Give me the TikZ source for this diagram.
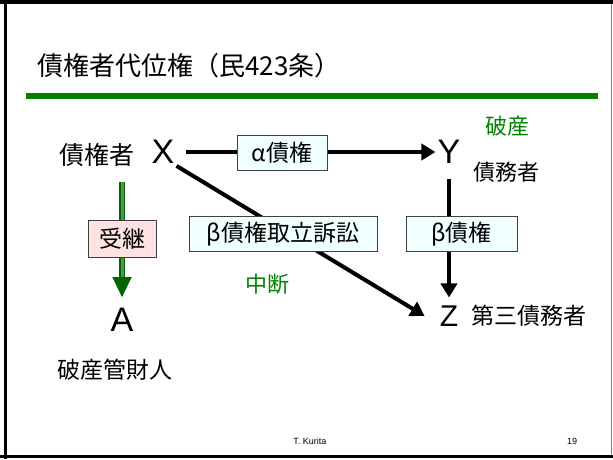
\documentclass[tikz,border=0pt]{standalone}
\usepackage{fontspec}
\setmainfont{Liberation Sans}
\newfontfamily\jp{Noto Sans CJK JP}
\usetikzlibrary{arrows.meta, positioning}

\definecolor{slidegreen}{RGB}{0,128,0}
\definecolor{darkgreen}{RGB}{0,100,0}
\definecolor{midgreen}{RGB}{80,150,80}
\definecolor{boxcyan}{RGB}{240,255,255}
\definecolor{boxpink}{RGB}{255,226,226}

\tikzset{
  party/.style={font=\fontsize{34}{34}\selectfont, inner sep=2pt},
  jlabel/.style={font=\jp\fontsize{23}{23}\selectfont, inner sep=0pt},
  claimbox/.style={draw=black!75, fill=boxcyan, line width=0.8pt, font=\jp\fontsize{23}{23}\selectfont, minimum height=35pt, inner sep=0pt},
  arr/.style={line width=4pt, -{Triangle[length=14pt,width=16pt]}},
  inheritarr/.style={darkgreen, line width=1.5pt, double=midgreen, double distance=3pt, -{Triangle[length=20pt,width=19pt]}},
}

\begin{document}
\begin{tikzpicture}[x=1pt, y=-1pt]
    \useasboundingbox (0,0) rectangle (613,459);

    % slide frame
    \draw[gray, line width=1.2pt] (611.5,0) -- (611.5,456);
    \draw[line width=4pt] (0,2) -- (613,2);
    \draw[line width=3pt] (5.5,0) -- (5.5,459);
    \draw[line width=3pt] (0,456) -- (613,456);

    % title
    \node[anchor=west, font=\jp\fontsize{26}{26}\selectfont, inner sep=0pt] (title) at (37,66) {債権者代位権（民423条）};
    \fill[slidegreen] (26,93) rectangle (598,99);

    % parties
    \node[party] (X) at (163,152) {X};
    \node[party] (Y) at (449,152) {Y};
    \node[party, font=\fontsize{30}{30}\selectfont] (Z) at (449,316) {Z};
    \node[party] (A) at (122,320) {A};

    \node[jlabel, font=\jp\fontsize{25}{25}\selectfont] (creditor) at (96.5,155) {債権者};
    \node[jlabel, font=\jp\fontsize{22}{22}\selectfont] (debtor) at (506,172) {債務者};
    \node[jlabel, right=11pt of Z] (thirddebtor) {第三債務者};
    \node[jlabel] (trustee) at (115,370) {破産管財人};
    \node[jlabel, text=slidegreen, font=\jp\fontsize{22}{22}\selectfont] (bankrupt) at (507,126) {破産};
    \node[jlabel, text=slidegreen, font=\jp\fontsize{22}{22}\selectfont] (suspend) at (267,284) {中断};

    % claims
    \coordinate (inheritTop) at (122,182);
    \draw[arr, shorten <=9pt] (X.east) -- (Y.west);
    \draw[arr, shorten <=13pt, shorten >=6pt] (Y.south) -- (Z.north);
    \draw[arr] (X.south east) -- ([xshift=-13pt]Z.west);
    \draw[inheritarr, shorten >=9pt] (inheritTop) -- (A.north);

    \node[claimbox, minimum width=90pt] (alpha) at (282,153) {α債権};
    \node[claimbox, minimum width=188pt] (suit) at (283,234) {β債権取立訴訟};
    \node[claimbox, minimum width=111pt] (beta) at (461.5,234) {β債権};
    \node[claimbox, fill=boxpink, minimum width=68pt, minimum height=37pt] (inherit) at (122,238.5) {受継};

    % footer
    \node[font=\fontsize{9}{9}\selectfont] (author) at (310,441) {T. Kurita};
    \node[font=\fontsize{9}{9}\selectfont] (page) at (572,441) {19};
\end{tikzpicture}
\end{document}
